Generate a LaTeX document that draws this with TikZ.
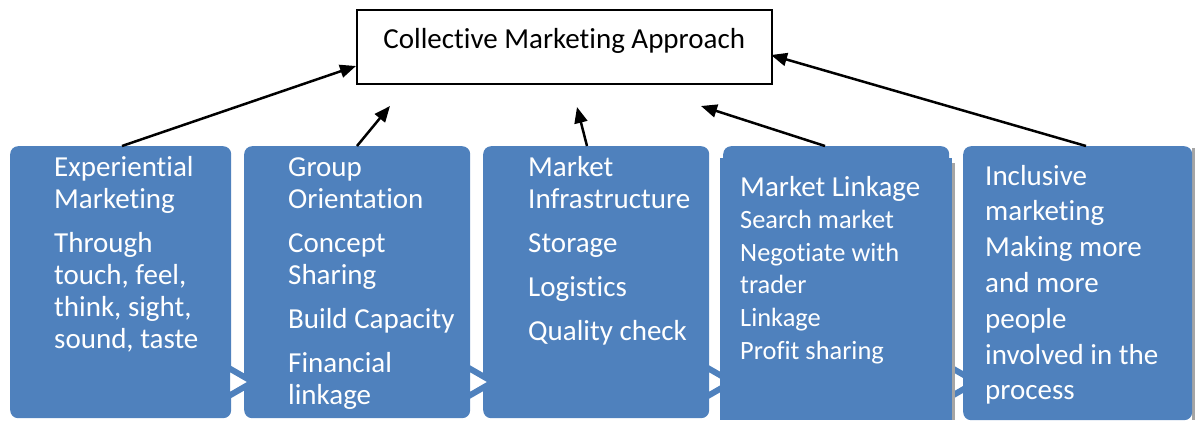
\documentclass[tikz,border=0pt]{standalone}
\usepackage{fontspec}
\setmainfont{Carlito}[Ligatures=NoCommon]
\usetikzlibrary{arrows.meta}
\definecolor{stepblue}{HTML}{4F81BD}
\definecolor{edgegrey}{HTML}{A5A5A5}
\begin{document}
\begin{tikzpicture}[x=1pt,y=-1pt,
  card/.style={fill=stepblue, draw=none, rounded corners=8pt, inner sep=0pt, anchor=north west},
  cardtext/.style={text=white, inner sep=0pt, anchor=base west, font=\fontsize{29}{32}\selectfont},
  chevron/.style={fill=white, draw=stepblue, line width=6pt, line join=miter},
  link/.style={-{Triangle[length=16pt,width=13pt]}, line width=2.5pt},
]
\useasboundingbox (0,0) rectangle (1195,421);

% first three stage cards
\node[card, minimum width=221pt, minimum height=272pt] (b1) at (10,146) {};
\node[card, minimum width=226pt, minimum height=272pt] (b2) at (244,146) {};
\node[card, minimum width=226pt, minimum height=272pt] (b3) at (483,146) {};

% flow chevrons between the cards
\draw[chevron] (227,367) -- (253,382) -- (227,397) -- cycle;
\draw[chevron] (467,367) -- (493,382) -- (467,397) -- cycle;
\draw[chevron] (706,367) -- (732,382) -- (706,397) -- cycle;
\draw[chevron] (950,367) -- (976,382) -- (950,397) -- cycle;

% fourth card with its shadow edge
\fill[edgegrey] (952,163) rectangle (955,420);
\fill[stepblue] (720,158) rectangle (952,420);
\node[card, minimum width=226pt, minimum height=272pt] (b4) at (723,146) {};

% fifth card with its shadow edge
\fill[edgegrey] (1192,148) rectangle (1195,420);
\node[card, minimum width=229pt, minimum height=274pt] (b5) at (963,146) {};

% card texts
\node[cardtext] (x1) at (54,176) {\begin{tabular}[t]{@{}l@{}}Experiential\\Marketing\\[12pt]Through\\touch, feel,\\think, sight,\\sound, taste\end{tabular}};
\node[cardtext] (x2) at (288,176) {\begin{tabular}[t]{@{}l@{}}Group\\Orientation\\[12pt]Concept\\Sharing\\[12pt]Build Capacity\\[12pt]Financial\\linkage\end{tabular}};
\node[cardtext] (x3) at (528,176) {\begin{tabular}[t]{@{}l@{}}Market\\Infrastructure\\[12pt]Storage\\[12pt]Logistics\\[12pt]Quality check\end{tabular}};
\node[cardtext, font=\fontsize{26.4}{32.6}\selectfont] (x4) at (740,196) {\begin{tabular}[t]{@{}l@{}}{\fontsize{29}{32.6}\selectfont Market Linkage}\\Search market\\Negotiate with\\trader\\Linkage\\Profit sharing\end{tabular}};
\node[cardtext, font=\fontsize{29}{35.8}\selectfont] (x5) at (985,185) {\begin{tabular}[t]{@{}l@{}}Inclusive\\marketing\\Making more\\and more\\people\\involved in the\\process\end{tabular}};

% goal box
\node[draw, line width=1.5pt, inner sep=0pt, minimum width=415pt, minimum height=74pt,
      anchor=north west, font=\fontsize{29}{32}\selectfont, text height=20pt, text depth=16pt]
      (title) at (356,9) {Collective Marketing Approach};

% arrow ends
\coordinate (s1) at (122,146);
\coordinate (s2) at (357,146);
\coordinate (s3) at (587,146);
\coordinate (s4) at (825,146);
\coordinate (s5) at (1086,146);
\coordinate (e1) at (356,66);
\coordinate (e2) at (390,106);
\coordinate (e3) at (577,107);
\coordinate (e4) at (701,106);
\coordinate (e5) at (771,55);

\draw[link] (s1) -- (e1);
\draw[link] (s2) -- (e2);
\draw[link] (s3) -- (e3);
\draw[link] (s4) -- (e4);
\draw[link] (s5) -- (e5);
\end{tikzpicture}
\end{document}
